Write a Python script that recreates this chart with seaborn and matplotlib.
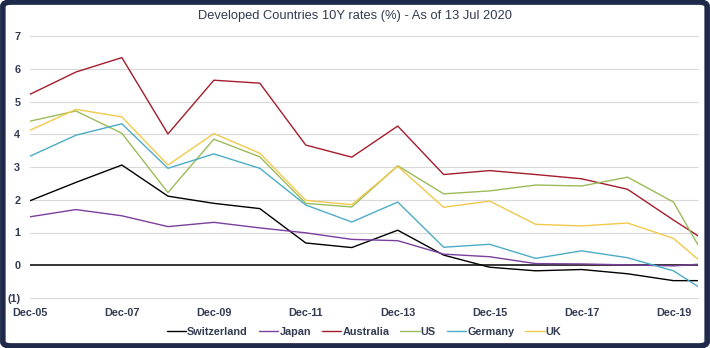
import matplotlib
matplotlib.use("Agg")
import matplotlib.pyplot as plt
from matplotlib.patches import FancyBboxPatch
from matplotlib.ticker import FuncFormatter
import seaborn as sns
import pandas as pd

dates = ["2005-12-31", "2006-12-31", "2007-12-31", "2008-12-31", "2009-12-31",
         "2010-12-31", "2011-12-31", "2012-12-31", "2013-12-31", "2014-12-31",
         "2015-12-31", "2016-12-31", "2017-12-31", "2018-12-31", "2019-12-31",
         "2020-07-13"]

switzerland = [1.97, 2.53, 3.06, 2.11, 1.89, 1.73, 0.68, 0.54, 1.07, 0.31,
               -0.06, -0.17, -0.13, -0.26, -0.47, -0.47]
japan = [1.48, 1.70, 1.51, 1.18, 1.31, 1.14, 0.99, 0.79, 0.75, 0.34,
         0.26, 0.05, 0.04, 0.01, -0.02, 0.03]
australia = [5.22, 5.90, 6.34, 4.01, 5.65, 5.56, 3.67, 3.30, 4.25, 2.77,
             2.89, 2.77, 2.64, 2.32, 1.38, 0.90]
us = [4.40, 4.71, 4.03, 2.22, 3.85, 3.31, 1.89, 1.78, 3.04, 2.18,
      2.27, 2.45, 2.42, 2.69, 1.93, 0.62]
germany = [3.33, 3.97, 4.32, 2.96, 3.40, 2.96, 1.84, 1.32, 1.93, 0.55,
           0.64, 0.21, 0.44, 0.23, -0.17, -0.65]
uk = [4.12, 4.76, 4.53, 3.06, 4.02, 3.42, 1.98, 1.85, 3.02, 1.77,
      1.96, 1.25, 1.20, 1.29, 0.82, 0.18]

countries = ["Switzerland", "Japan", "Australia", "US", "Germany", "UK"]
series = [switzerland, japan, australia, us, germany, uk]
colors = ["#000000", "#7B3F9E", "#A51C2C", "#9BBB59", "#4BACC6", "#F2C94C"]

rows = []
for name, vals in zip(countries, series):
    for d, v in zip(dates, vals):
        rows.append({"date": pd.Timestamp(d), "value": v, "country": name})
df = pd.DataFrame(rows)

sns.set_style("white")
plt.rcParams["font.family"] = ["Liberation Sans", "DejaVu Sans"]
text_color = "#333B52"

fig = plt.figure(figsize=(7.1, 3.48), dpi=100)
ax = fig.add_axes([30/710, 1 - 298/348, (698 - 30)/710, (298 - 36)/348])

# gridlines
for y in [-1, 1, 2, 3, 4, 5, 6, 7]:
    ax.axhline(y, color="#D9D9D9", lw=0.8, zorder=0, clip_on=False)
ax.axhline(0, color="black", lw=1.1, zorder=1)

sns.lineplot(data=df, x="date", y="value", hue="country", hue_order=countries,
             palette=dict(zip(countries, colors)), linewidth=1.0, ax=ax,
             legend=True, zorder=3)

ax.set_xlim(pd.Timestamp(dates[0]), pd.Timestamp(dates[-1]))
ax.set_ylim(-1, 7)
ax.set_yticks(range(-1, 8))
ax.yaxis.set_major_formatter(FuncFormatter(lambda v, p: f"({abs(int(v))})" if v < 0 else f"{int(v)}"))
xt = [pd.Timestamp(f"20{y:02d}-12-31") for y in range(5, 20, 2)]
ax.set_xticks(xt)
ax.set_xticklabels([f"Dec-{y:02d}" for y in range(5, 20, 2)])
ax.set_xlabel("")
ax.set_ylabel("")
for s in ax.spines.values():
    s.set_visible(False)
ax.tick_params(axis="both", length=0, labelsize=7.8, colors=text_color)
ax.tick_params(axis="x", pad=7)
ax.tick_params(axis="y", pad=7)
for lab in ax.get_xticklabels() + ax.get_yticklabels():
    lab.set_fontweight("bold")

handles, labels = ax.get_legend_handles_labels()
ax.legend(handles, labels, loc="center", bbox_to_anchor=(0.5, -34/262),
          ncol=6, frameon=False, fontsize=7.8, handlelength=1.8,
          handletextpad=0.1, columnspacing=1.0, labelcolor=text_color,
          borderaxespad=0, borderpad=0)
for t in ax.get_legend().get_texts():
    t.set_fontweight("bold")

fig.text(0.5, 1 - 16/348, "Developed Countries 10Y rates (%) - As of 13 Jul 2020",
         ha="center", va="center", fontsize=9.3, color=text_color)

border = FancyBboxPatch((0.004, 0.006), 0.992, 0.988,
                        boxstyle="round,pad=0,rounding_size=0.012",
                        transform=fig.transFigure, fill=False,
                        edgecolor="#1F2A4A", linewidth=4, zorder=10)
fig.patches.append(border)

fig.savefig("out.png", dpi=100)
